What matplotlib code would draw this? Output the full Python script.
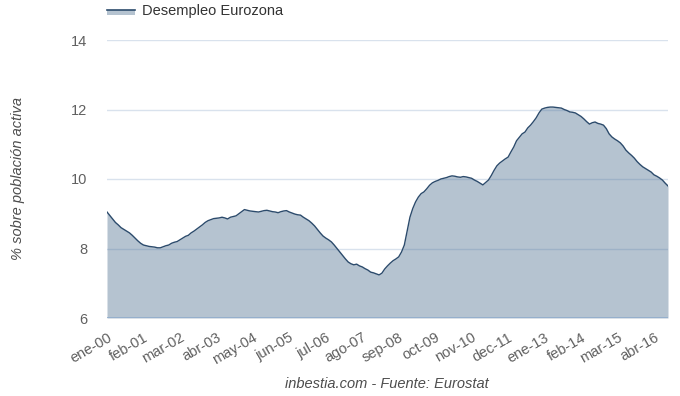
import matplotlib
matplotlib.use("Agg")
import matplotlib.pyplot as plt
import numpy as np
from matplotlib.patches import Rectangle
from matplotlib.lines import Line2D

plt.rcParams['font.family'] = ['Liberation Sans', 'DejaVu Sans']

# Monthly eurozone unemployment (%), Jan 2000 - Sep 2016
v2000 = [9.05, 8.95, 8.85, 8.75, 8.68, 8.60, 8.55, 8.50, 8.45, 8.38, 8.30, 8.22]
v2001 = [8.15, 8.10, 8.08, 8.06, 8.05, 8.04, 8.02, 8.02, 8.05, 8.08, 8.10, 8.15]
v2002 = [8.18, 8.20, 8.25, 8.30, 8.35, 8.38, 8.45, 8.50, 8.56, 8.62, 8.68, 8.75]
v2003 = [8.80, 8.83, 8.86, 8.87, 8.88, 8.90, 8.88, 8.85, 8.90, 8.92, 8.94, 9.00]
v2004 = [9.06, 9.12, 9.10, 9.08, 9.07, 9.06, 9.05, 9.07, 9.09, 9.10, 9.08, 9.06]
v2005 = [9.05, 9.03, 9.06, 9.08, 9.09, 9.05, 9.02, 8.99, 8.97, 8.96, 8.90, 8.85]
v2006 = [8.80, 8.73, 8.65, 8.55, 8.45, 8.36, 8.30, 8.25, 8.19, 8.10, 8.00, 7.90]
v2007 = [7.80, 7.70, 7.61, 7.56, 7.53, 7.55, 7.50, 7.47, 7.42, 7.38, 7.32, 7.30]
v2008 = [7.27, 7.24, 7.29, 7.41, 7.50, 7.58, 7.65, 7.70, 7.76, 7.90, 8.10, 8.50]
v2009 = [8.90, 9.15, 9.34, 9.48, 9.58, 9.63, 9.72, 9.82, 9.89, 9.93, 9.96, 10.00]
v2010 = [10.02, 10.04, 10.07, 10.09, 10.08, 10.06, 10.05, 10.07, 10.06, 10.04, 10.02, 9.97]
v2011 = [9.93, 9.88, 9.83, 9.90, 9.97, 10.10, 10.25, 10.38, 10.46, 10.52, 10.58, 10.63]
v2012 = [10.78, 10.92, 11.10, 11.20, 11.30, 11.35, 11.47, 11.55, 11.65, 11.76, 11.90, 12.01]
v2013 = [12.04, 12.06, 12.07, 12.07, 12.06, 12.05, 12.04, 12.00, 11.97, 11.93, 11.92, 11.90]
v2014 = [11.85, 11.80, 11.73, 11.65, 11.58, 11.62, 11.64, 11.60, 11.58, 11.55, 11.45, 11.30]
v2015 = [11.21, 11.15, 11.10, 11.04, 10.95, 10.83, 10.75, 10.68, 10.60, 10.50, 10.42, 10.35]
v2016 = [10.30, 10.25, 10.20, 10.12, 10.08, 10.03, 9.97, 9.88, 9.80]

values = (v2000 + v2001 + v2002 + v2003 + v2004 + v2005 + v2006 + v2007 + v2008
          + v2009 + v2010 + v2011 + v2012 + v2013 + v2014 + v2015 + v2016)

month_names = ['ene', 'feb', 'mar', 'abr', 'may', 'jun', 'jul', 'ago', 'sep', 'oct', 'nov', 'dic']
categories = [f"{month_names[i % 12]}-{(2000 + i // 12) % 100:02d}" for i in range(len(values))]
tick_idx = list(range(0, len(values), 13))
tick_labels = [categories[i] for i in tick_idx]
tick_labels = [t.replace('dic-11', 'dec-11') for t in tick_labels]

series_name = "Desempleo Eurozona"
y_ticks = [6, 8, 10, 12, 14]

W, H = 680, 396
fig = plt.figure(figsize=(W / 100, H / 100), dpi=100)
ax = fig.add_axes([107 / W, 1 - 318 / H, (668 - 107) / W, (318 - 40) / H])

x = np.arange(len(values))
fill_col = '#b5c3d0'
line_col = '#2c4b6c'
ax.fill_between(x, 6, values, color=fill_col, lw=0, zorder=1)
ax.plot(x, values, color=line_col, lw=1.0, zorder=3)

ax.set_xlim(0, len(values) - 1)
ax.set_ylim(6, 14)
ax.set_yticks(y_ticks)
ax.set_yticklabels([str(t) for t in y_ticks])
for t in y_ticks[1:]:
    ax.axhline(t, color='#4572a7', alpha=0.2, lw=1.0, zorder=2)
ax.axhline(6, color='#8faccc', lw=1.2, zorder=4)

for s in ax.spines.values():
    s.set_visible(False)
ax.tick_params(axis='y', length=0, pad=14, labelsize=10.5, labelcolor='#606060')
ax.tick_params(axis='x', length=0, pad=9, labelsize=10.5, labelcolor='#606060')
ax.set_xticks(tick_idx)
ax.set_xticklabels(tick_labels, rotation=30, ha='right', rotation_mode='anchor')

fig.text(18 / W, 1 - 178 / H, '% sobre población activa', rotation=90, ha='center', va='center',
         fontsize=10.5, style='italic', color='#4d4d4d')
fig.text(387 / W, 1 - 384 / H, 'inbestia.com - Fuente: Eurostat', ha='center', va='center',
         fontsize=10.5, style='italic', color='#4d4d4d')

# legend
fig.patches.append(Rectangle((107 / W, 1 - 15 / H), 28 / W, 5 / H, transform=fig.transFigure,
                             facecolor=fill_col, edgecolor='none'))
fig.lines.append(Line2D([107 / W, 135 / W], [1 - 10 / H, 1 - 10 / H], transform=fig.transFigure,
                        color=line_col, lw=1.2))
fig.text(142 / W, 1 - 11 / H, series_name, ha='left', va='center', fontsize=10.5, color='#333333')

fig.savefig('out.png', dpi=100)
